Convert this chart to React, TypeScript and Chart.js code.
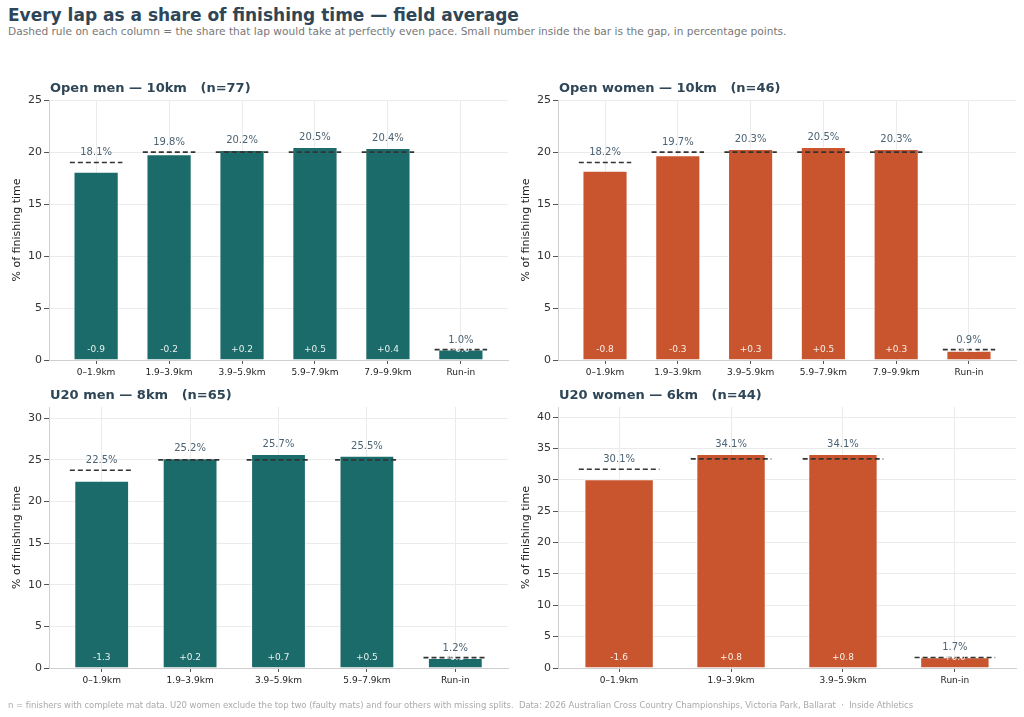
import { useEffect, useRef } from "react";
import { Chart, registerables } from "chart.js";

Chart.register(...registerables);

const FONT = "'DejaVu Sans', Verdana, sans-serif";
const INK = "#2e4657";
const TEAL = "#1b6b6a";
const RUST = "#c8552d";

// lap labels
const openLaps = ["0–1.9km", "1.9–3.9km", "3.9–5.9km", "5.9–7.9km", "7.9–9.9km", "Run-in"];
const u20MenLaps = ["0–1.9km", "1.9–3.9km", "3.9–5.9km", "5.9–7.9km", "Run-in"];
const u20WomenLaps = ["0–1.9km", "1.9–3.9km", "3.9–5.9km", "Run-in"];

// share of finishing time (%), even-pace share, gap (pp)
const openMenShare = [18.1, 19.8, 20.2, 20.5, 20.4, 1.0];
const openMenEven = [19.0, 20.0, 20.0, 20.0, 20.0, 1.0];
const openMenGap = [-0.9, -0.2, 0.2, 0.5, 0.4, -0.04];

const openWomenShare = [18.2, 19.7, 20.3, 20.5, 20.3, 0.9];
const openWomenEven = [19.0, 20.0, 20.0, 20.0, 20.0, 1.0];
const openWomenGap = [-0.8, -0.3, 0.3, 0.5, 0.3, -0.1];

const u20MenShare = [22.5, 25.2, 25.7, 25.5, 1.2];
const u20MenEven = [23.75, 25.0, 25.0, 25.0, 1.25];
const u20MenGap = [-1.3, 0.2, 0.7, 0.5, -0.1];

const u20WomenShare = [30.1, 34.1, 34.1, 1.7];
const u20WomenEven = [31.67, 33.33, 33.33, 1.67];
const u20WomenGap = [-1.6, 0.8, 0.8, 0.0];

type PanelProps = {
  title: string;
  labels: string[];
  values: number[];
  even: number[];
  gaps: number[];
  color: string;
  left: number;
  top: number;
  width: number;
  height: number;
  padTop: number;
  padRight: number;
  axisH: number;
};

function Panel(p: PanelProps) {
  const canvasRef = useRef<HTMLCanvasElement>(null);

  useEffect(() => {
    if (!canvasRef.current) return;
    const n = p.labels.length;
    const pad = 0.36 + 0.05 * (n - 1 + 0.72);
    const yMax = Math.max(...p.values) * 1.22;

    const overlay = {
      id: "overlay",
      afterDatasetsDraw(chart: any) {
        const { ctx, chartArea, scales } = chart;
        const x = scales.x;
        const y = scales.y;
        ctx.save();
        // even-pace dashed rules
        ctx.strokeStyle = "#333333";
        ctx.lineWidth = 1.6;
        ctx.setLineDash([5, 3]);
        p.even.forEach((e, i) => {
          const yy = y.getPixelForValue(e);
          ctx.beginPath();
          ctx.moveTo(x.getPixelForValue(i - 0.36), yy);
          ctx.lineTo(x.getPixelForValue(i + 0.36), yy);
          ctx.stroke();
        });
        ctx.setLineDash([]);
        // value labels
        ctx.textAlign = "center";
        ctx.textBaseline = "alphabetic";
        ctx.font = `10px ${FONT}`;
        ctx.fillStyle = "#4d6373";
        p.values.forEach((v, i) => {
          const yy = y.getPixelForValue(Math.max(v, p.even[i]));
          ctx.fillText(v.toFixed(1) + "%", x.getPixelForValue(i), yy - 7);
        });
        // gap labels
        ctx.font = `9px ${FONT}`;
        ctx.fillStyle = "rgba(255,255,255,0.9)";
        ctx.textBaseline = "middle";
        const base = y.getPixelForValue(0);
        p.gaps.forEach((g, i) => {
          const s = g >= 0 ? "+" + g.toFixed(1) : g.toFixed(1);
          ctx.fillText(s, x.getPixelForValue(i), base - 10);
        });
        // panel title
        ctx.font = `bold 13px ${FONT}`;
        ctx.fillStyle = INK;
        ctx.textAlign = "left";
        ctx.fillText(p.title, chartArea.left + 1, chartArea.top - 11);
        ctx.restore();
      },
    };

    const chart = new Chart(canvasRef.current, {
      type: "bar",
      data: {
        datasets: [
          {
            data: p.values.map((v, i) => ({ x: i, y: v })),
            backgroundColor: p.color,
            borderColor: "rgba(255,255,255,0.55)",
            borderWidth: 1,
            categoryPercentage: 1,
            barPercentage: 0.62,
          },
        ],
      },
      options: {
        animation: false,
        responsive: true,
        maintainAspectRatio: false,
        layout: { padding: { top: p.padTop, right: p.padRight, left: 7, bottom: 0 } },
        plugins: { legend: { display: false }, tooltip: { enabled: false }, title: { display: false } },
        scales: {
          x: {
            type: "linear",
            offset: false,
            min: -pad,
            max: n - 1 + pad,
            bounds: "data",
            afterBuildTicks: (s: any) => {
              s.ticks = p.labels.map((_, i) => ({ value: i }));
            },
            afterFit: (s: any) => {
              s.height = p.axisH;
            },
            ticks: {
              callback: (v: any) => p.labels[v as number] ?? "",
              autoSkip: false,
              maxRotation: 0,
              color: "#222",
              font: { family: FONT, size: 9 },
              padding: 3,
            },
            grid: { offset: false, color: "#ebebeb", tickColor: "#555", tickLength: 4 },
            border: { color: "#cfcfcf" },
          },
          y: {
            min: 0,
            max: yMax,
            bounds: "data",
            afterBuildTicks: (s: any) => {
              const t = [];
              for (let v = 0; v <= yMax; v += 5) t.push({ value: v });
              s.ticks = t;
            },
            afterFit: (s: any) => {
              s.width = 42;
            },
            ticks: {
              color: "#333",
              font: { family: FONT, size: 11 },
              padding: 2,
            },
            grid: { color: "#ebebeb", tickColor: "#555", tickLength: 5 },
            border: { color: "#cfcfcf" },
            title: {
              display: true,
              text: "% of finishing time",
              color: "#222",
              font: { family: FONT, size: 11 },
              padding: { top: 4, bottom: 4 },
            },
          },
        },
      },
      plugins: [overlay],
    } as any);

    return () => chart.destroy();
    // eslint-disable-next-line react-hooks/exhaustive-deps
  }, []);

  return (
    <div style={{ position: "absolute", left: p.left, top: p.top, width: p.width, height: p.height }}>
      <canvas ref={canvasRef} />
    </div>
  );
}

export default function App() {
  return (
    <div
      style={{
        position: "absolute",
        left: 0,
        top: 0,
        width: 1024,
        height: 717,
        background: "#fff",
        fontFamily: FONT,
        overflow: "hidden",
      }}
    >
      <div style={{ position: "absolute", left: 8, top: 5, fontSize: 17, lineHeight: "20px", fontWeight: "bold", color: INK }}>
        Every lap as a share of finishing time — field average
      </div>
      <div style={{ position: "absolute", left: 8, top: 25, fontSize: 10.6, lineHeight: "12px", color: "#777" }}>
        Dashed rule on each column = the share that lap would take at perfectly even pace. Small number inside the bar is the gap, in percentage points.
      </div>

      <Panel title="Open men — 10km   (n=77)" labels={openLaps} values={openMenShare} even={openMenEven} gaps={openMenGap}
        color={TEAL} left={0} top={60} width={520} height={330} padTop={40} padRight={12} axisH={30} />
      <Panel title="Open women — 10km   (n=46)" labels={openLaps} values={openWomenShare} even={openWomenEven} gaps={openWomenGap}
        color={RUST} left={509} top={60} width={515} height={330} padTop={40} padRight={8} axisH={30} />
      <Panel title="U20 men — 8km   (n=65)" labels={u20MenLaps} values={u20MenShare} even={u20MenEven} gaps={u20MenGap}
        color={TEAL} left={0} top={370} width={520} height={330} padTop={37} padRight={12} axisH={32} />
      <Panel title="U20 women — 6km   (n=44)" labels={u20WomenLaps} values={u20WomenShare} even={u20WomenEven} gaps={u20WomenGap}
        color={RUST} left={509} top={370} width={515} height={330} padTop={37} padRight={8} axisH={32} />

      <div style={{ position: "absolute", left: 8, top: 699, fontSize: 8.5, lineHeight: "12px", color: "#aaa", whiteSpace: "pre", letterSpacing: -0.05 }}>
        n = finishers with complete mat data. U20 women exclude the top two (faulty mats) and four others with missing splits.  Data: 2026 Australian Cross Country Championships, Victoria Park, Ballarat  ·  Inside Athletics
      </div>
    </div>
  );
}
